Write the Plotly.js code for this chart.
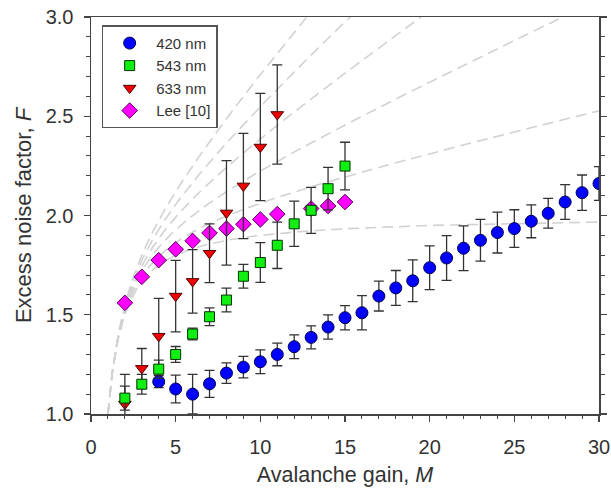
<!DOCTYPE html>
<html>
<head>
<meta charset="utf-8">
<script src="https://cdn.plot.ly/plotly-3.0.1.min.js"></script>
<style>html,body{margin:0;padding:0;background:#fff;}#chart{width:611px;height:493px;}</style>
</head>
<body>
<div id="chart"></div>
<script>
// ---- data ----
const gainBlue = [4,5,6,7,8,9,10,11,12,13,14,15,16,17,18,19,20,21,22,23,24,25,26,27,28,29,30];
const F420 = [1.163,1.126,1.100,1.152,1.206,1.236,1.263,1.300,1.339,1.386,1.438,1.485,1.510,1.594,1.635,1.671,1.737,1.786,1.835,1.875,1.914,1.934,1.971,2.011,2.068,2.115,2.161];
const err420 = [0.03,0.07,0.10,0.068,0.052,0.054,0.06,0.057,0.06,0.058,0.061,0.061,0.086,0.075,0.088,0.105,0.11,0.113,0.113,0.105,0.103,0.095,0.083,0.075,0.088,0.089,0.085];

const gainGreen = [2,3,4,5,6,7,8,9,10,11,12,13,14,15];
const F543 = [1.08,1.15,1.226,1.30,1.403,1.49,1.574,1.694,1.763,1.85,1.958,2.026,2.135,2.249];
const err543 = [0.06,0.05,0.045,0.04,0.03,0.045,0.06,0.06,0.10,0.117,0.114,0.116,0.107,0.12];

const gainRed = [2,3,4,5,6,7,8,9,10,11];
const F633 = [1.05,1.23,1.392,1.594,1.668,1.81,2.013,2.149,2.345,2.509];
const err633 = [0.15,0.10,0.19,0.18,0.16,0.148,0.263,0.265,0.27,0.25];

const gainLee = [2,3,4,5,6,7,8,9,10,11,13,14,15];
const FLee = [1.56,1.691,1.775,1.83,1.872,1.912,1.934,1.956,1.98,2.007,2.035,2.048,2.068];

// McIntyre ionisation ratios k of the dashed reference curves
const kValues = [0, 0.02, 0.04, 0.06, 0.08, 0.1];

const xTickVals = [0,5,10,15,20,25,30];
const yTickVals = [1.0,1.5,2.0,2.5,3.0];
const yTickText = ['1.0','1.5','2.0','2.5','3.0'];

// ---- build traces ----
const traces = [];
const mGrid = [];
for (let m = 1; m <= 30.0001; m += 0.05) mGrid.push(+m.toFixed(2));
kValues.forEach(k => {
  traces.push({
    x: mGrid,
    y: mGrid.map(m => k*m + (1-k)*(2 - 1/m)),
    mode: 'lines', type: 'scatter', showlegend: false, hoverinfo: 'skip',
    line: {color: '#d2d2d2', width: 1.6, dash: '11px,6px'}
  });
});

const errStyle = (arr) => ({type: 'data', array: arr, visible: true, color: '#333', thickness: 1.3, width: 5});

traces.push({
  x: gainLee, y: FLee, name: 'Lee [10]', legendrank: 4,
  mode: 'markers', type: 'scatter',
  marker: {symbol: 'diamond', size: 12, color: '#ff00ff', line: {color: '#5a005a', width: 1}}
});
traces.push({
  x: gainRed, y: F633, name: '633 nm', legendrank: 3,
  mode: 'markers', type: 'scatter', error_y: errStyle(err633),
  marker: {symbol: 'triangle-down', size: 11, color: '#ee0000', line: {color: '#500000', width: 1}}
});
traces.push({
  x: gainBlue, y: F420, name: '420 nm', legendrank: 1,
  mode: 'markers', type: 'scatter', error_y: errStyle(err420),
  marker: {symbol: 'circle', size: 12, color: '#0000ff', line: {color: '#000050', width: 1}}
});
traces.push({
  x: gainGreen, y: F543, name: '543 nm', legendrank: 2,
  mode: 'markers', type: 'scatter', error_y: errStyle(err543),
  marker: {symbol: 'square', size: 10, color: '#11ee11', line: {color: '#003300', width: 1}}
});

const fam = '"Liberation Sans", Arial, sans-serif';

const layout = {
  width: 611, height: 493,
  margin: {l: 91, r: 12, t: 17, b: 79, pad: 0},
  paper_bgcolor: '#fff', plot_bgcolor: '#fff',
  font: {family: fam, size: 20, color: '#333'},
  showlegend: true,
  legend: {
    x: 0.021, y: 0.979, xanchor: 'left', yanchor: 'top',
    bgcolor: '#fff', bordercolor: '#555', borderwidth: 1.5,
    font: {family: fam, size: 15, color: '#333'},
    itemwidth: 43, tracegroupgap: 0
  },
  xaxis: {
    range: [0, 30], tickvals: xTickVals, ticktext: xTickVals.map(String),
    ticks: 'outside', ticklen: 6, tickwidth: 1.3, tickcolor: '#444',
    ticklabelstandoff: 8,
    minor: {dtick: 1, tick0: 0, ticks: 'outside', ticklen: 3, tickwidth: 1, tickcolor: '#444'},
    showline: true, linecolor: '#444', linewidth: 1.5, mirror: true,
    showgrid: false, zeroline: false,
    title: {text: 'Avalanche gain, <i>M</i>', font: {family: fam, size: 21.5, color: '#333'}, standoff: 10},
    tickfont: {family: fam, size: 20, color: '#333'}
  },
  yaxis: {
    range: [1, 3], tickvals: yTickVals, ticktext: yTickText,
    ticks: 'outside', ticklen: 6, tickwidth: 1.3, tickcolor: '#444',
    ticklabelstandoff: 6,
    minor: {dtick: 0.1, tick0: 1, ticks: 'outside', ticklen: 4, tickwidth: 1, tickcolor: '#444'},
    showline: true, linecolor: '#444', linewidth: 1.5, mirror: 'ticks',
    showgrid: false, zeroline: false,
    title: {text: 'Excess noise factor, <i>F</i>', font: {family: fam, size: 22, color: '#333'}, standoff: 8},
    tickfont: {family: fam, size: 20, color: '#333'}
  },
  xaxis2: {
    overlaying: 'x', anchor: 'y', side: 'bottom', range: [0, 30],
    tickvals: xTickVals, ticks: 'inside', ticklen: 5, tickwidth: 1.3, tickcolor: '#444',
    showticklabels: false, showline: false, showgrid: false, zeroline: false
  },
  yaxis2: {
    overlaying: 'y', anchor: 'x', side: 'left', range: [1, 3],
    tickvals: yTickVals, ticks: 'inside', ticklen: 5, tickwidth: 1.3, tickcolor: '#444',
    minor: {dtick: 0.1, tick0: 1, ticks: 'inside', ticklen: 4, tickwidth: 1, tickcolor: '#444'},
    mirror: 'ticks', showline: false,
    showticklabels: false, showgrid: false, zeroline: false
  }
};

Plotly.newPlot('chart', traces, layout, {displayModeBar: false, staticPlot: true});
</script>
</body>
</html>
